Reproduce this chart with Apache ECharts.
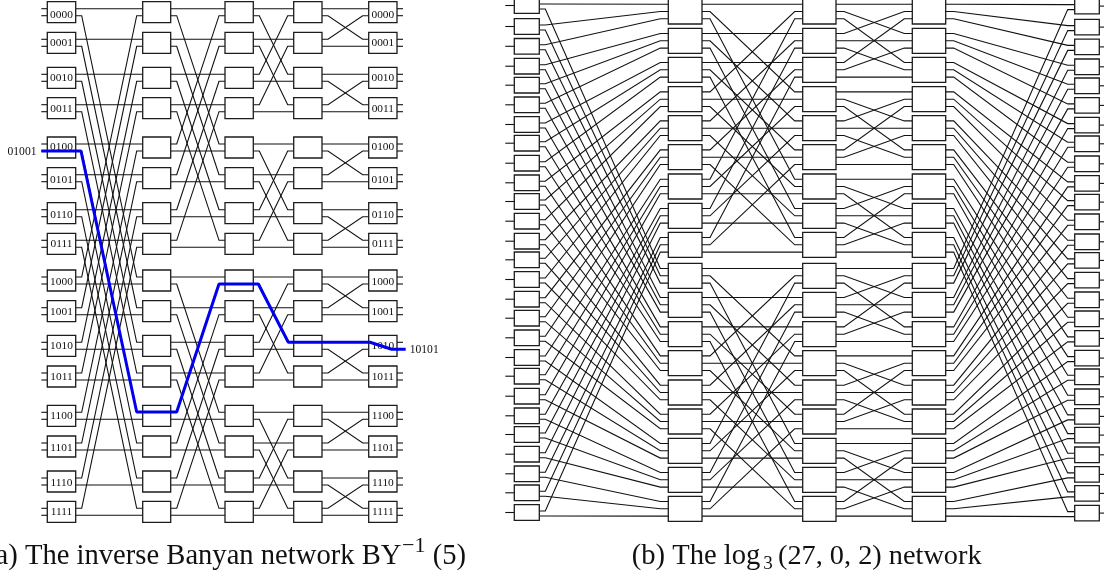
<!DOCTYPE html>
<html><head><meta charset="utf-8">
<style>html,body{margin:0;padding:0;background:#fff}#c{width:1104px;height:575px}</style>
<script src="https://cdn.jsdelivr.net/npm/echarts@6/dist/echarts.min.js"></script>
</head><body><div id="c"></div>
<script>
// Network (a): inverse Banyan BY^-1(5)
const bannerRows = [12.2,42.8,77.8,108.2,147.5,178.2,213.2,243.8,280.5,311.2,345.8,376.5,415.8,446.5,481.5,511.8];
const bannerColumns = [[47.3,75.7],[142.7,170.7],[225,253.3],[293.7,322],[368.7,397]];
const bannerShifts = [8,4,2,1];
const bannerLabels = ["0000","0001","0010","0011","0100","0101","0110","0111","1000","1001","1010","1011","1100","1101","1110","1111"];
const bannerLabelRows = [15,42.9,78,109,147,180,215,244,281.7,311.7,346,376.7,415.7,448,483,511.7];
const bluePathX = [41.3,81,136.7,176.7,219,258.3,288.3,370,391.7,405.7];
const bluePathY = [151,151,412,412,284,284,342.3,342.3,349.3,349.3];
const sideLabels = ["01001","10101"];
const sideLabelX = [22,424.2];
const sideLabelY = [152,350];
// Network (b): log3(27,0,2)
const logOuterRows = [5.5,26.5,46.3,66.2,85.2,104.8,124.5,143.2,163.2,182.8,201.5,221.2,241.2,259.8,279.5,299.2,318.2,337.8,357.5,376.2,396.2,415.8,434.5,454.2,473.8,492.8,512.5];
const logInnerRows = [11.5,40.8,69.8,99.2,128.2,157.2,186.5,215.8,244.8,275.8,304.8,334.2,363.2,392.5,421.5,450.8,479.8,508.8];
const logColumns = [[514.3,539.3],[668.3,702],[802.7,836],[912.3,945.7],[1074.7,1099.3]];
const captionTexts = ["(a) The inverse Banyan network BY","\u22121","(5)","(b) The log","3","(27, 0, 2) network"];
const captionX = [-13.9,402,432.7,631.7,763.3,778];
const captionY = [556.5,546.3,556.5,556.5,564.3,556.5];
const captionSize = [28.6,22,28.6,28.6,19,28.3];

const wires = [], boxes = [];
function seg(a,b,c,d,e,f,g,h){wires.push([a,b,c,d,e,f,g,h]);}
const STUB = 6, STUBB = 8;
// (a) boxes, wires
bannerColumns.forEach(c=>bannerRows.forEach(r=>boxes.push([c[0],r-10.5,c[1],r+10.5])));
const portA=(r,p)=>bannerRows[r]+(p?3.5:-3.5);
bannerShifts.forEach((s,ci)=>{
  const L=bannerColumns[ci][1],R=bannerColumns[ci+1][0];
  for(let r=0;r<16;r++){for(let p=0;p<2;p++){
    const upper=(Math.floor(r/s)%2===0);
    let tr=r,tp=p;
    if(upper&&p===1){tr=r+s;tp=0;}
    if(!upper&&p===0){tr=r-s;tp=1;}
    const y1=portA(r,p),y2=portA(tr,tp);
    seg(L,y1,L+STUB,y1,R-STUB,y2,R,y2);
  }}
});
for(let r=0;r<16;r++)for(let p=0;p<2;p++){
  const y=portA(r,p);
  seg(bannerColumns[0][0]-STUB,y,bannerColumns[0][0],y,bannerColumns[0][0],y,bannerColumns[0][0],y);
  seg(bannerColumns[4][1],y,bannerColumns[4][1]+STUB,y,bannerColumns[4][1]+STUB,y,bannerColumns[4][1]+STUB,y);
}
// (b) boxes, wires
logOuterRows.forEach(r=>boxes.push([logColumns[0][0],r-7.8,logColumns[0][1],r+7.8]));
logOuterRows.forEach(r=>boxes.push([logColumns[4][0],r-7.2,logColumns[4][1],r+8.4]));
[1,2,3].forEach(c=>logInnerRows.forEach(r=>boxes.push([logColumns[c][0],r-12.5,logColumns[c][1],r+12.5])));
const portB=(b,p)=>logInnerRows[b]+(p-1)*7.3;
const outL=(s,k)=>logOuterRows[s]+(k?3.5:-1.5);
const outR=(s,k)=>logOuterRows[s]+0.6+(k?3.5:-1.5);
for(let s=0;s<27;s++)for(let k=0;k<2;k++){
  const b=k*9+Math.floor(s/3),p=s%3;
  let y1=outL(s,k),y2=portB(b,p);
  seg(logColumns[0][1],y1,logColumns[0][1]+STUB,y1,logColumns[1][0]-STUBB,y2,logColumns[1][0],y2);
  y1=portB(b,p);y2=outR(s,k);
  seg(logColumns[3][1],y1,logColumns[3][1]+STUBB,y1,logColumns[4][0]-STUB-1,y2,logColumns[4][0],y2);
}
for(let plane=0;plane<2;plane++)for(let b=0;b<9;b++)for(let p=0;p<3;p++){
  const g=Math.floor(b/3),j=b%3;
  let y1=portB(plane*9+b,p),y2=portB(plane*9+3*p+j,g);
  seg(logColumns[1][1],y1,logColumns[1][1]+STUBB,y1,logColumns[2][0]-STUBB,y2,logColumns[2][0],y2);
  y2=portB(plane*9+3*g+p,j);
  seg(logColumns[2][1],y1=portB(plane*9+b,p),logColumns[2][1]+STUBB,y1,logColumns[3][0]-STUBB,y2,logColumns[3][0],y2);
}
logOuterRows.forEach(r=>{
  seg(logColumns[0][0]-9,r,logColumns[0][0],r,logColumns[0][0],r,logColumns[0][0],r);
  seg(logColumns[4][1],r+.6,logColumns[4][1]+6,r+.6,logColumns[4][1]+6,r+.6,logColumns[4][1]+6,r+.6);
});

const texts=[];
bannerLabels.forEach((t,i)=>{
  texts.push({value:[(bannerColumns[0][0]+bannerColumns[0][1])/2,bannerLabelRows[i]],t,size:11.4,align:'center'});
  texts.push({value:[(bannerColumns[4][0]+bannerColumns[4][1])/2,bannerLabelRows[i]],t,size:11.4,align:'center'});
});
sideLabels.forEach((t,i)=>texts.push({value:[sideLabelX[i],sideLabelY[i]],t,size:11.6,align:'center'}));
captionTexts.forEach((t,i)=>texts.push({value:[captionX[i],captionY[i]],t,size:captionSize[i],align:'left'}));

const chart=echarts.init(document.getElementById('c'));
chart.setOption({
  animation:false,backgroundColor:'#fff',
  grid:{left:0,right:0,top:0,bottom:0},
  xAxis:{type:'value',min:0,max:1104,show:false},
  yAxis:{type:'value',min:0,max:575,inverse:true,show:false},
  series:[
    {type:'custom',name:'wires',data:wires,silent:true,clip:false,z:2,renderItem(p,api){
      const pts=[0,2,4,6].map(i=>api.coord([api.value(i),api.value(i+1)]));
      return {type:'polyline',shape:{points:pts},style:{stroke:'#111',lineWidth:1.1,fill:null}};
    }},
    {type:'custom',name:'boxes',data:boxes,silent:true,clip:false,z:3,renderItem(p,api){
      const a=api.coord([api.value(0),api.value(1)]),b=api.coord([api.value(2),api.value(3)]);
      return {type:'rect',shape:{x:a[0],y:a[1],width:b[0]-a[0],height:b[1]-a[1]},style:{fill:'#fff',stroke:'#1c1c1c',lineWidth:1.3}};
    }},
    {type:'custom',name:'labels',data:texts,silent:true,clip:false,z:4,renderItem(p,api){
      const a=api.coord([api.value(0),api.value(1)]),d=texts[p.dataIndex];
      return {type:'text',x:a[0],y:a[1],style:{text:d.t,align:d.align,verticalAlign:'middle',fill:'#111',font:d.size+'px "Liberation Serif"'}};
    }},
    {type:'line',name:'path',data:bluePathX.map((x,i)=>[x,bluePathY[i]]),symbol:'none',silent:true,z:5,lineStyle:{color:'#0000ee',width:3}}
  ]
});
</script></body></html>
